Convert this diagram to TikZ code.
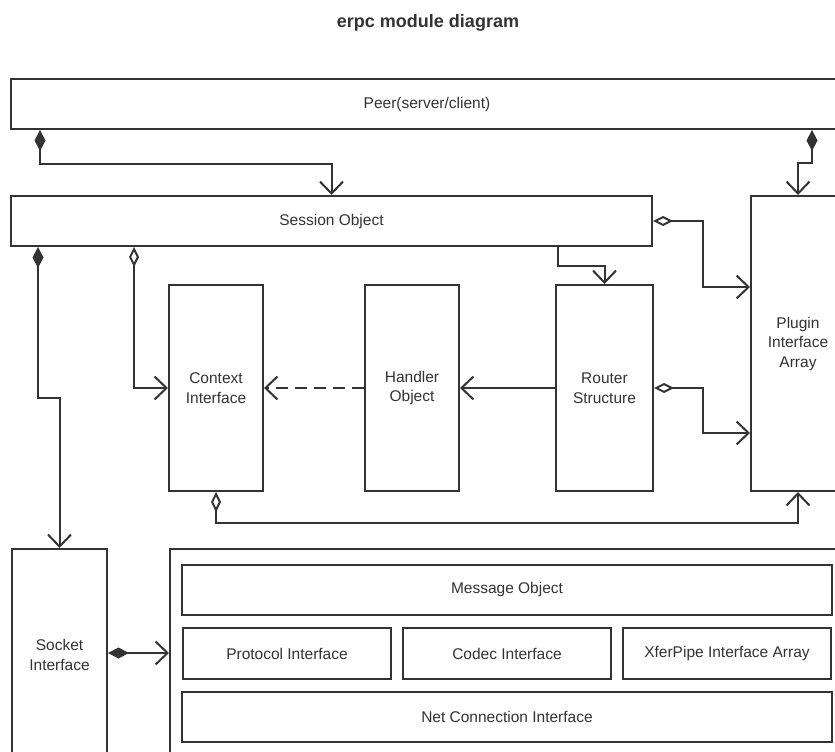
\documentclass[tikz,border=0pt]{standalone}
\usepackage{fontspec}
\setmainfont{Liberation Sans}
\usetikzlibrary{arrows.meta,positioning}

\begin{document}
\begin{tikzpicture}[
  x=1pt, y=-1pt,
  every node/.style={font=\fontsize{15.5}{19.5}\selectfont, text=black!80},
  box/.style={draw=black!80, line width=2pt, align=center, inner sep=0pt},
  wide/.style={box, minimum width=650pt, minimum height=50pt},
  tall/.style={box, minimum width=94pt, minimum height=206pt},
  arr/.style={draw=black!80, line width=2pt, -{Straight Barb[length=12pt,width=23pt]}},
  comp/.style={arr, {Diamond[length=21pt,width=11pt]}-{Straight Barb[length=12pt,width=23pt]}},
  aggr/.style={arr, {Diamond[open,length=20pt,width=10pt]}-{Straight Barb[length=12pt,width=23pt]}}
]
\clip (0,0) rectangle (835,752);
\fill[white] (0,0) rectangle (835,752);

\node[font=\fontsize{18}{21}\selectfont\bfseries] (title) at (428,23) {erpc module diagram};

% upper layer
\node[box, minimum width=832pt, minimum height=50pt] (peer) at (427,104) {Peer(server/client)};
\node[box, minimum width=641pt, minimum height=50pt] (session) at (331.5,221) {Session Object};
\node[box, minimum width=94pt, minimum height=295pt] (plugin) at (798,343.5) {Plugin\\Interface\\Array};
\node[tall, minimum width=97pt] (router) at (604.5,388) {Router\\Structure};
\node[tall] (handler) at (412,388) {Handler\\Object};
\node[tall] (context) at (216,388) {Context\\Interface};

% lower layer
\node[box, minimum width=95pt, minimum height=212pt] (socket) at (59.5,655) {Socket\\Interface};
\node[box, minimum width=674pt, minimum height=205pt] (layer) at (507,651.5) {};
\node[wide] (message) at (507,589.5) {Message Object};
\node[box, minimum width=208pt, minimum height=51pt] (codec) at (507,653.5) {Codec Interface};
\node[box, minimum width=208pt, minimum height=51pt, left=10pt of codec] (protocol) {Protocol Interface};
\node[box, minimum width=208pt, minimum height=51pt, right=10pt of codec] (xfer) {XferPipe Interface Array};
\node[wide] (netconn) at (507,717) {Net Connection Interface};

% connectors
\draw[comp] ([xshift=30pt]peer.south west) -- ++(0,34) -| (session.north);
\draw[comp] ([xshift=-32pt]peer.south east) -- ++(0,33) -| (plugin.north);
\draw[aggr] (session.east) -- ++(50,0) |- ([yshift=-92pt]plugin.north west);
\draw[arr] ([xshift=-95pt]session.south east) -- ++(0,19) -| (router.north);
\draw[arr] (router.west) -- (handler.east);
\draw[arr, dashed, dash pattern=on 12pt off 7pt] (handler.west) -- (context.east);
\draw[aggr] (router.east) -- ++(49,0) |- ([yshift=59pt]plugin.south west);
\draw[aggr] (context.south) -- ++(0,31) -| (plugin.south);
\draw[comp] ([xshift=28pt]session.south west) -- ++(0,151) -| (socket.north);
\draw[aggr] ([xshift=124pt]session.south west) |- (context.west);
\draw[comp] ([yshift=2pt]socket.east) -- ([yshift=2pt]socket.east -| layer.west);
\end{tikzpicture}
\end{document}
